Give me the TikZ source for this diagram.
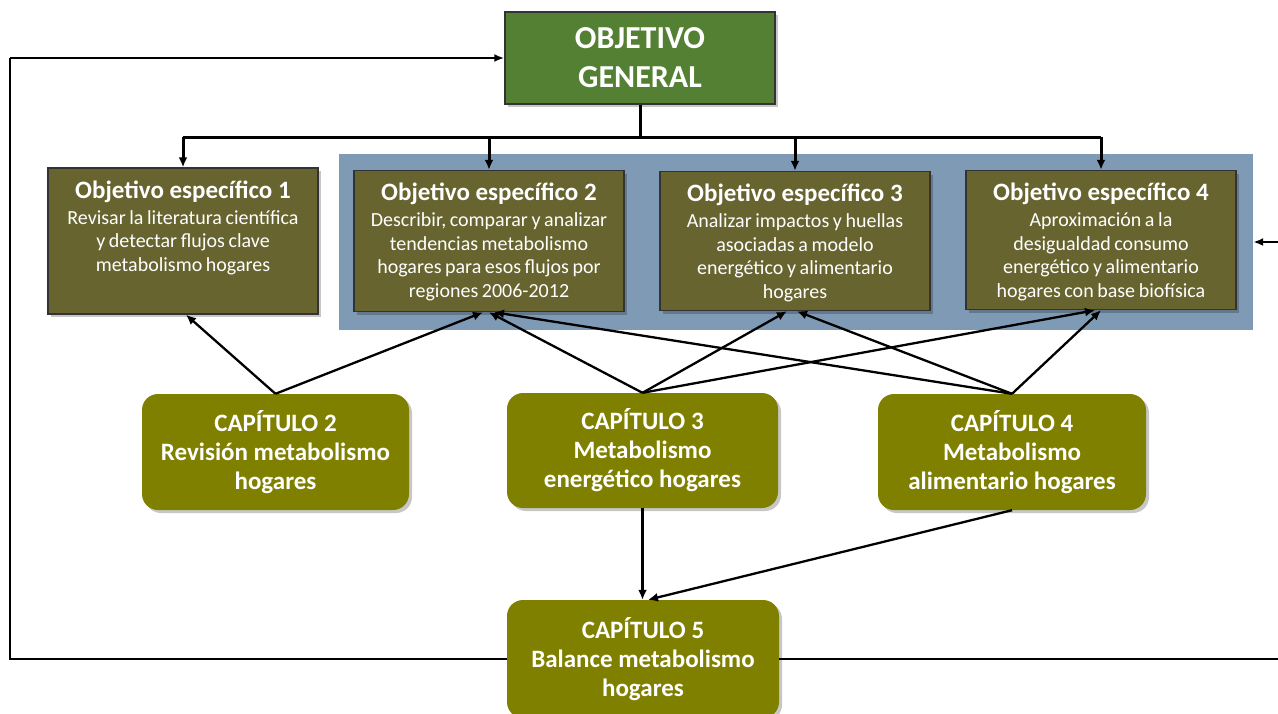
\documentclass[tikz,border=0pt]{standalone}
\usepackage{fontspec}
\setmainfont{Carlito}
\usetikzlibrary{arrows.meta,shadows}

\definecolor{ogfill}{RGB}{84,128,52}
\definecolor{oefill}{RGB}{103,100,48}
\definecolor{capfill}{RGB}{128,128,0}
\definecolor{panelblue}{RGB}{127,154,181}

% text of a specific-objective box: bold title, then the description, both from the top
\newcommand\oetext[4]{\parbox[c][#1][t]{268pt}{\centering\vspace*{#2}%
  {\fontsize{25}{28}\selectfont\bfseries #3\par}\vspace{2.5pt}%
  {\fontsize{20}{23.5}\selectfont\spaceskip=0.18em plus 0.05em #4\par}}}
\newcommand\oefull[3]{\oetext{#1}{12.5pt}{#2}{#3}}

\begin{document}
\begin{tikzpicture}[x=1pt,y=-1pt,
  boxshadow/.style={drop shadow={shadow xshift=3pt,shadow yshift=-3pt,opacity=0.22,fill=black}},
  ogbox/.style={draw=black!80,line width=1.5pt,fill=ogfill,text=white,align=center,
    minimum width=270pt,minimum height=92pt,inner sep=0pt,boxshadow,
    font=\fontsize{32}{39}\selectfont\bfseries},
  oebox/.style={draw=black!80,line width=1.5pt,fill=oefill,text=white,
    minimum width=270pt,inner sep=0pt,boxshadow},
  capbox/.style={fill=capfill,rounded corners=16pt,text=white,align=center,inner sep=0pt,
    boxshadow,font=\fontsize{25}{29}\selectfont\bfseries},
  tree/.style={line width=3pt},
  treearrow/.style={line width=3pt,-{Latex[length=10pt,width=9pt]}},
  link/.style={line width=2.3pt,-{Latex[length=10pt,width=9pt]}},
  loop/.style={line width=2.3pt},
  looparrow/.style={line width=2.3pt,-{Latex[length=10pt,width=8pt]}}]

\useasboundingbox (0,0) rectangle (1278,713);
\clip (0,0) rectangle (1278,713);

% blue panel holding objectives 2 to 4
\node (panel) [fill=panelblue,minimum width=914pt,minimum height=176pt,inner sep=0pt] at (796,242) {};

% general objective
\node (og) [ogbox] at (640,58) {OBJETIVO\\GENERAL};

% specific objectives
\node (oe1) [oebox] at (183,241) {\oefull{146pt}{Objetivo específico 1}{Revisar la literatura científica\\y detectar flujos clave\\metabolismo hogares}};
\node (oe2) [oebox] at (489,241) {\oefull{141pt}{Objetivo específico 2}{Describir, comparar y analizar\\tendencias metabolismo\\hogares para esos flujos por\\regiones 2006-2012}};
\node (oe3) [oebox] at (795,241) {\oefull{139pt}{Objetivo específico 3}{Analizar impactos y huellas\\asociadas a modelo\\energético y alimentario\\hogares}};
\node (oe4) [oebox] at (1101,240) {\oefull{139pt}{Objetivo específico 4}{Aproximación a la\\desigualdad consumo\\energético y alimentario\\hogares con base biofísica}};

% chapters
\node (cap2) [capbox,minimum width=267pt,minimum height=116pt] at (275.5,452) {CAPÍTULO 2\\Revisión metabolismo\\hogares};
\node (cap3) [capbox,minimum width=271pt,minimum height=115pt] at (642.5,450.5) {CAPÍTULO 3\\Metabolismo\\energético hogares};
\node (cap4) [capbox,minimum width=268pt,minimum height=116pt] at (1012,452) {CAPÍTULO 4\\Metabolismo\\alimentario hogares};
\node (cap5) [capbox,minimum width=272pt,minimum height=118pt] at (643,659) {CAPÍTULO 5\\Balance metabolismo\\hogares};

% distribution from the general objective to the specific ones
\coordinate (bus) at (640,137);
\draw[tree] (og.south) -- (bus);
\draw[tree] (oe1.north |- bus) -- (oe4.north |- bus);
\foreach \n in {oe1,oe2,oe3,oe4}
  \draw[treearrow] (\n.north |- bus) -- (\n.north);

% chapters feeding the specific objectives
\draw[link] (cap2.north) -- ([xshift=3pt]oe1.south);
\draw[link] (cap2.north) -- ([xshift=-6pt]oe2.south);
\draw[link] (cap3.north) -- (oe2.south);
\draw[link] (cap3.north) -- ([xshift=-8pt]oe3.south);
\draw[link] (cap3.north) -- ([xshift=-6pt]oe4.south);
\draw[link] (cap4.north) -- ([xshift=5pt]oe2.south);
\draw[link] (cap4.north) -- ([xshift=2pt]oe3.south);
\draw[link] (cap4.north) -- (oe4.south);

% chapters 3 and 4 lead to chapter 5
\draw[link] (cap3.south) -- (cap3.south |- cap5.north);
\draw[link] (cap4.south) -- ([xshift=5pt]cap5.north);

% feedback loops from chapter 5
\coordinate (lx) at (10,0);
\coordinate (rx) at (1290,0);
\draw[loop] (cap5.west) -| (lx |- og.west);
\draw[looparrow] (lx |- og.west) -- (og.west);
\draw[loop] (cap5.east) -| (rx |- panel.east);
\draw[looparrow] (rx |- panel.east) -- (panel.east);
\end{tikzpicture}
\end{document}
